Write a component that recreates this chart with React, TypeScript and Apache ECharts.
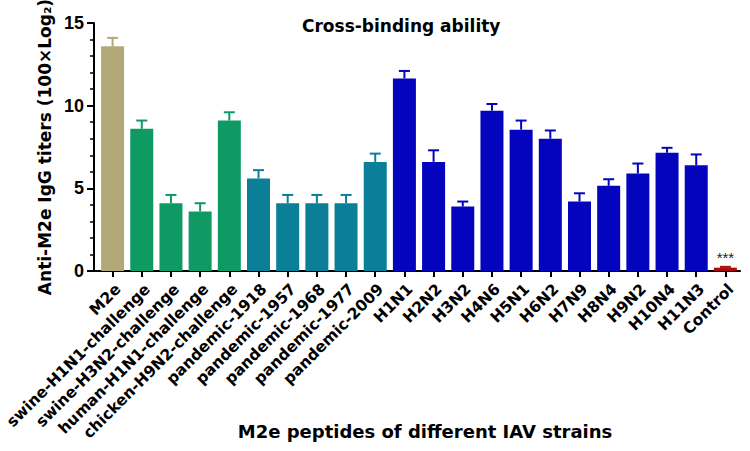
import React, { useEffect, useRef } from "react";
import * as echarts from "echarts";

const categories = [
  "M2e",
  "swine-H1N1-challenge",
  "swine-H3N2-challenge",
  "human-H1N1-challenge",
  "chicken-H9N2-challenge",
  "pandemic-1918",
  "pandemic-1957",
  "pandemic-1968",
  "pandemic-1977",
  "pandemic-2009",
  "H1N1",
  "H2N2",
  "H3N2",
  "H4N6",
  "H5N1",
  "H6N2",
  "H7N9",
  "H8N4",
  "H9N2",
  "H10N4",
  "H11N3",
  "Control",
];

const values = [
  13.6, 8.6, 4.1, 3.6, 9.1, 5.6, 4.1, 4.1, 4.1, 6.6, 11.65, 6.6, 3.9, 9.7, 8.55, 8.0, 4.2, 5.15, 5.9,
  7.15, 6.4, 0.2,
];

const errors = [
  0.5, 0.5, 0.5, 0.5, 0.5, 0.5, 0.5, 0.5, 0.5, 0.5, 0.45, 0.7, 0.3, 0.4, 0.55, 0.5, 0.5, 0.4, 0.6,
  0.3, 0.65, 0.05,
];

const groups = [
  "m2e",
  "challenge", "challenge", "challenge", "challenge",
  "pandemic", "pandemic", "pandemic", "pandemic", "pandemic",
  "subtype", "subtype", "subtype", "subtype", "subtype", "subtype", "subtype", "subtype", "subtype", "subtype", "subtype",
  "control",
];

const groupColors: Record<string, string> = {
  m2e: "#B3A877",
  challenge: "#0F9A64",
  pandemic: "#0B7E98",
  subtype: "#0404BF",
  control: "#A80C0C",
};

const yTicks = [0, 5, 10, 15];

const FONT = 'Arial, "Liberation Sans", sans-serif';
const WIDE = '"DejaVu Sans", Verdana, sans-serif';

export default function App() {
  const ref = useRef<HTMLDivElement>(null);

  useEffect(() => {
    if (!ref.current) return;
    const chart = echarts.init(ref.current, null, { renderer: "svg" });

    const barData = values.map((v, i) => ({
      value: v,
      itemStyle: { color: groupColors[groups[i]] },
      label:
        categories[i] === "Control"
          ? {
              show: true,
              position: "top",
              distance: 3,
              formatter: "***",
              fontSize: 15,
              color: "#222",
              fontFamily: FONT,
            }
          : { show: false },
    }));

    const errData = values.map((v, i) => [i, v, errors[i]]);

    chart.setOption({
      animation: false,
      backgroundColor: "#fff",
      title: {
        text: "Cross-binding ability",
        left: 297,
        top: 12,
        textStyle: { fontSize: 17, fontWeight: "bold", color: "#000", fontFamily: WIDE },
      },
      grid: {
        left: 98,
        right: 10,
        top: 23,
        bottom: 180,
        containLabel: false,
        outerBoundsMode: "none",
      },
      xAxis: {
        type: "category",
        data: categories,
        boundaryGap: true,
        name: "M2e peptides of different IAV strains",
        nameLocation: "middle",
        nameGap: 151,
        nameMoveOverlap: false,
        nameTextStyle: {
          fontSize: 18,
          fontWeight: "bold",
          color: "#000",
          fontFamily: WIDE,
          padding: [0, 0, 0, 12],
        },
        axisLine: { show: true, lineStyle: { color: "#000", width: 2 } },
        axisTick: { show: true, alignWithLabel: true, length: 6, lineStyle: { color: "#000", width: 2 } },
        axisLabel: {
          rotate: 45,
          interval: 0,
          margin: 10,
          verticalAlign: "top",
          fontSize: 15.5,
          fontWeight: "bold",
          color: "#000",
          fontFamily: WIDE,
        },
        splitLine: { show: false },
      },
      yAxis: {
        type: "value",
        min: yTicks[0],
        max: yTicks[yTicks.length - 1],
        interval: 5,
        offset: 4,
        name: "Anti-M2e IgG titers (100×Log₂)",
        nameLocation: "middle",
        nameGap: 41,
        nameMoveOverlap: false,
        nameTextStyle: { fontSize: 17, fontWeight: "bold", color: "#000", fontFamily: WIDE },
        axisLine: { show: true, lineStyle: { color: "#000", width: 2 } },
        axisTick: { show: true, length: 7, lineStyle: { color: "#000", width: 2 } },
        minorTick: { show: true, splitNumber: 5, length: 4, lineStyle: { color: "#000", width: 1.5 } },
        axisLabel: { fontSize: 18, fontWeight: "bold", color: "#000", fontFamily: FONT, margin: 10 },
        splitLine: { show: false },
      },
      graphic: [
        {
          type: "line",
          shape: { x1: 93, y1: 271, x2: 99, y2: 271 },
          style: { stroke: "#000", lineWidth: 2 },
          z: 10,
        },
      ],
      series: [
        {
          type: "bar",
          data: barData,
          barWidth: 23,
          z: 2,
        },
        {
          type: "custom",
          data: errData,
          z: 3,
          renderItem: (params: any, api: any) => {
            const idx = api.value(0);
            const v = api.value(1);
            const e = api.value(2);
            const base = api.coord([idx, v]);
            const top = api.coord([idx, v + e]);
            const half = 5.5;
            const color = groupColors[groups[idx]];
            return {
              type: "group",
              children: [
                {
                  type: "line",
                  shape: { x1: base[0], y1: base[1], x2: top[0], y2: top[1] },
                  style: { stroke: color, lineWidth: 2 },
                },
                {
                  type: "line",
                  shape: { x1: top[0] - half, y1: top[1], x2: top[0] + half, y2: top[1] },
                  style: { stroke: color, lineWidth: 2 },
                },
              ],
            };
          },
        },
      ],
    });

    return () => chart.dispose();
  }, []);

  return (
    <div
      ref={ref}
      style={{ position: "fixed", left: 0, top: 0, width: 750, height: 451, background: "#fff" }}
    />
  );
}
